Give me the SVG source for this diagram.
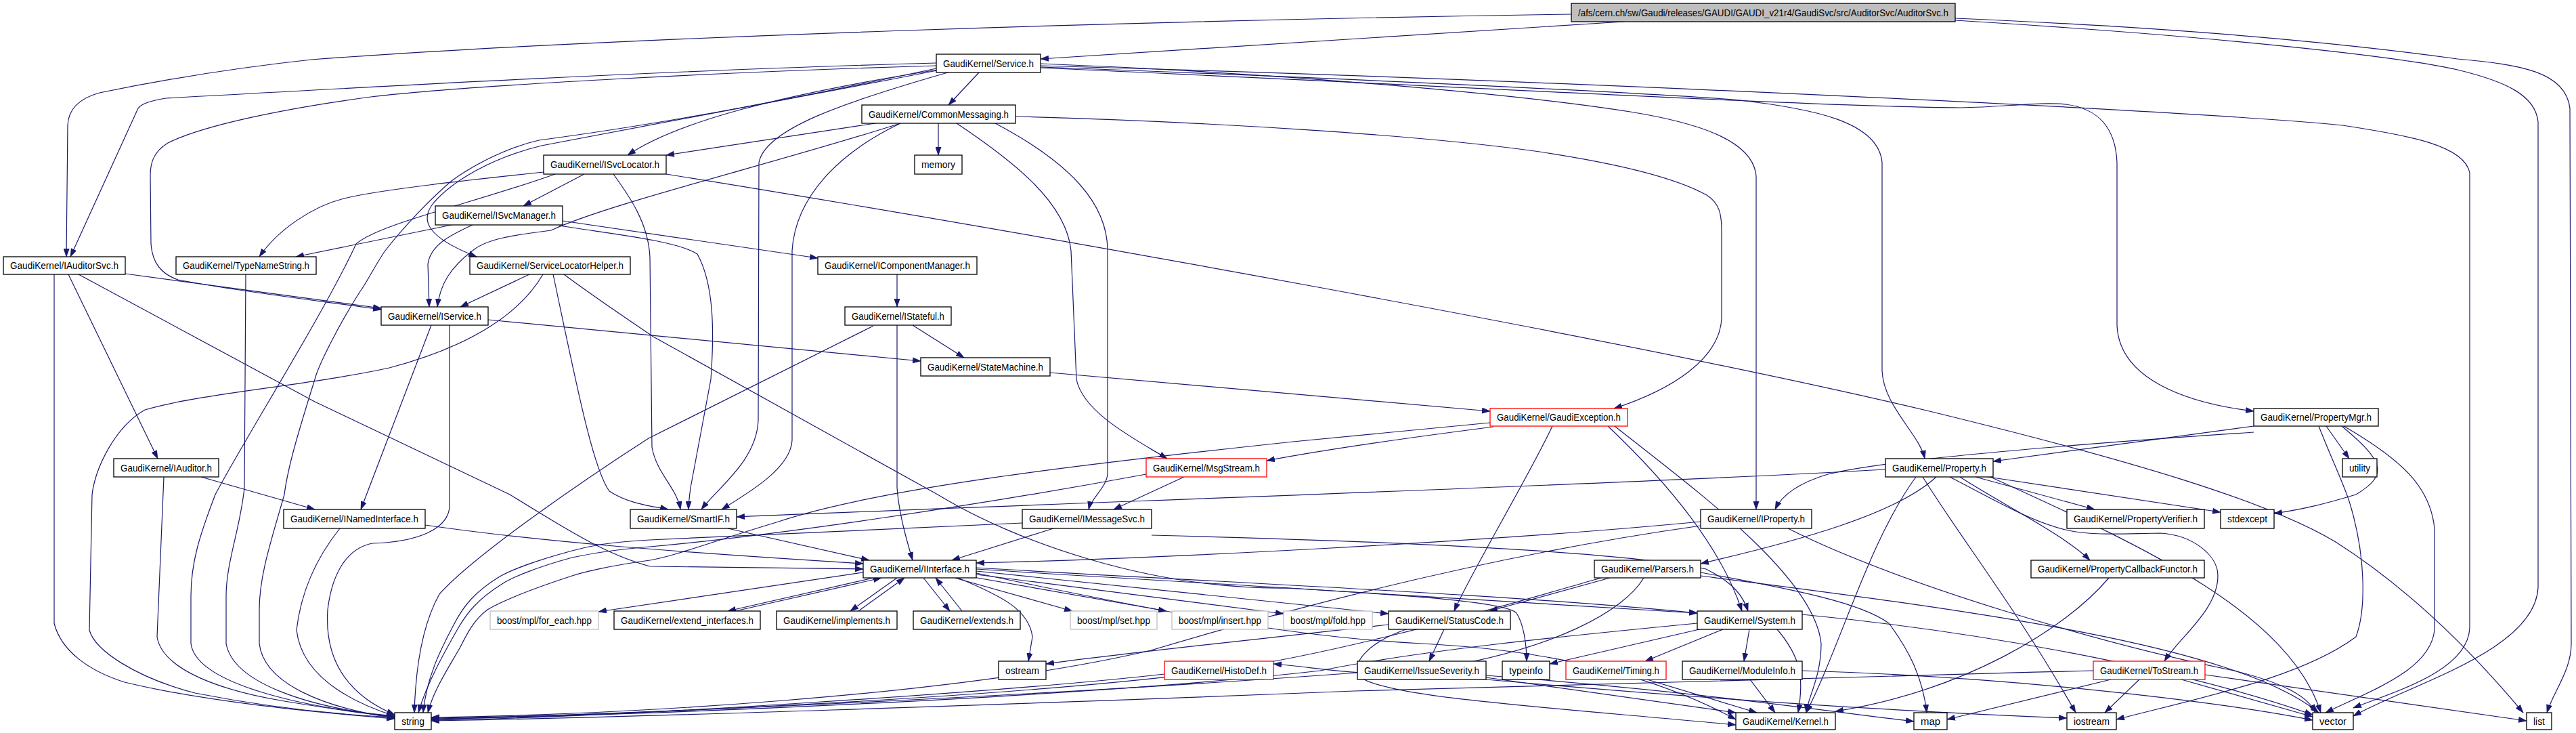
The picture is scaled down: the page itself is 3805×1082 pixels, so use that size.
<svg xmlns="http://www.w3.org/2000/svg" width="3805" height="1082" viewBox="0 0 3805 1082">
<defs>
<marker id="a" markerWidth="13" markerHeight="9" refX="12" refY="4.5" orient="auto" markerUnits="userSpaceOnUse"><path d="M0,0L13,4.5L0,9z" fill="#191970"/></marker>
<style>
.n rect{fill:#fff;stroke:#000;stroke-width:1.3}
.r rect{stroke:#f00}
.g rect{stroke:#bfbfbf}
.t rect{fill:#bfbfbf}
text{font-family:"Liberation Sans",Arial,sans-serif;font-size:14px;text-anchor:middle;fill:#000}
.e path{fill:none;stroke:#191970;stroke-width:1.2;marker-end:url(#a)}
</style>
</defs>
<rect width="3805" height="1082" fill="#fff"/>
<g id="edges" class="e">
<path d="M2399,32 C2100,50 1800,72 1537,87"/>
<path d="M2321,21 C1700,30 900,55 460,88 C330,102 220,122 147,137 C118,145 101,160 100,185 L98,379"/>
<path d="M2888,27 C3200,40 3450,62 3630,87 C3720,95 3790,105 3796,160 L3798,950 C3798,990 3772,1020 3762,1052"/>
<path d="M2888,30 C3300,55 3550,85 3630,103 C3700,120 3745,140 3749,180 L3749,867 C3745,960 3560,1010 3476,1057"/>
<path d="M1537,97 C2200,115 3200,160 3460,185 C3560,200 3640,215 3648,255 L3648,927 C3645,990 3540,1020 3476,1045"/>
<path d="M1537,100 C2200,130 2700,158 2896,159 C2960,158 3014,150 3051,154 C3100,160 3125,190 3127,240 L3127,480 C3130,560 3230,595 3329,607"/>
<path d="M1537,94 C1900,108 2250,140 2408,165 C2500,180 2590,205 2594,260 L2594,752"/>
<path d="M1537,99 C1900,112 2400,135 2561,147 C2680,160 2775,180 2780,240 L2780,547 C2782,600 2835,640 2843,677"/>
<path d="M1446,107 L1401,155"/>
<path d="M1383,93 C1000,103 550,128 245,145 C215,150 206,155 203,162 L104,379"/>
<path d="M1383,97 C1100,105 700,125 548,143 C420,160 300,185 248,211 C225,225 222,243 222,260 L223,360 C225,390 240,405 263,413 C350,430 480,445 563,457"/>
<path d="M185,404 L563,455"/>
<path d="M1385,103 C1150,140 1000,180 927,229"/>
<path d="M1383,101 C1200,140 1000,180 796,207 C740,220 690,250 667,267 C640,290 600,330 569,370 C555,390 540,420 532,430 C500,480 470,540 465,560 C440,640 425,690 420,730 C400,800 383,850 383,900 L383,950 C390,1010 480,1045 583,1060"/>
<path d="M1384,104 C1150,150 900,195 800,215 C730,232 670,265 640,300 C620,325 630,350 704,379"/>
<path d="M1293,182 L984,229"/>
<path d="M1330,182 C1150,240 900,300 814,340 C760,347 720,352 698,370 C665,395 650,420 646,453"/>
<path d="M1330,182 C1240,225 1175,290 1170,370 L1170,650 C1168,690 1110,725 1066,752"/>
<path d="M1400,107 C1250,150 1130,190 1121,240 L1120,620 C1118,680 1060,720 1036,752"/>
<path d="M1386,182 L1386,229"/>
<path d="M1413,182 C1500,240 1575,300 1582,370 L1590,560 C1600,610 1680,650 1724,677"/>
<path d="M1470,182 C1580,240 1636,300 1636,370 L1636,700 C1634,720 1612,735 1608,752"/>
<path d="M1500,172 C1800,180 2100,200 2267,223 C2380,240 2470,260 2521,288 C2540,300 2543,317 2543,340 L2543,470 C2540,530 2470,575 2384,603"/>
<path d="M863,257 L773,304"/>
<path d="M803,254 C700,265 560,280 508,293 C460,305 410,340 383,379"/>
<path d="M984,257 C1500,340 2400,500 2850,607 C3150,680 3350,740 3450,800 C3560,870 3650,960 3727,1052"/>
<path d="M906,257 C930,290 958,330 960,380 L963,660 C970,700 1000,720 1005,752"/>
<path d="M820,257 C700,300 560,330 526,360 C480,460 360,650 318,730 C295,790 282,830 282,880 L282,950 C290,1010 450,1045 583,1057"/>
<path d="M667,332 L437,379"/>
<path d="M698,332 C670,345 636,360 632,390 L634,453"/>
<path d="M831,326 L1208,381"/>
<path d="M826,333 C900,345 1000,355 1030,375 C1055,420 1055,490 1050,560 L1020,720 C1018,735 1017,745 1017,752"/>
<path d="M782,405 L680,453"/>
<path d="M817,405 C850,560 875,690 900,725 C930,745 970,748 987,752"/>
<path d="M802,405 C770,460 700,510 575,543 C450,570 300,580 214,605 C170,630 141,690 136,730 L132,930 C140,960 200,1000 288,1023 C400,1045 500,1055 583,1059"/>
<path d="M833,405 C880,440 940,480 965,497 L1385,730 C1500,800 1700,870 1900,868 L2507,905"/>
<path d="M363,405 L361,720 C355,780 334,830 334,880 L334,950 C345,1010 460,1045 583,1058"/>
<path d="M80,405 L80,920 C90,960 130,990 184,1007 C300,1035 450,1050 583,1061"/>
<path d="M242,704 L232,940 C240,990 330,1020 420,1035 C500,1048 550,1055 583,1058"/>
<path d="M502,780 C470,820 445,870 438,930 C445,990 500,1030 583,1057"/>
<path d="M664,480 L664,750 C660,780 620,800 550,802 C510,810 490,850 484,900 C480,960 500,1020 583,1055"/>
<path d="M297,704 L465,752"/>
<path d="M637,480 L533,752"/>
<path d="M721,472 L1360,533"/>
<path d="M101,405 L233,677"/>
<path d="M116,405 L465,593 L753,730 C850,790 900,820 960,836 L1275,840"/>
<path d="M628,775 C800,800 1000,815 1275,832"/>
<path d="M1325,480 L1325,720 C1328,760 1340,800 1348,827"/>
<path d="M1348,480 L1424,528"/>
<path d="M1290,481 L958,647 C860,710 700,820 649,877 C625,920 614,980 612,1052"/>
<path d="M1325,405 L1325,453"/>
<path d="M1551,550 C1800,570 2000,590 2201,607"/>
<path d="M1749,704 L1645,752"/>
<path d="M1693,700 C1450,745 1150,790 960,807 C900,812 870,818 845,823 C790,838 755,853 740,863 C705,885 690,905 678,925 C655,965 630,1010 618,1052"/>
<path d="M1556,780 L1406,827"/>
<path d="M1510,772 C1200,785 1000,795 960,797 C900,800 870,806 845,813 C790,828 750,843 735,853 C700,875 685,895 673,917 C650,960 630,1000 625,1052"/>
<path d="M1701,790 C2100,800 2400,815 2520,840 C2560,860 2575,880 2582,902"/>
<path d="M1075,780 L1284,827"/>
<path d="M1290,853 L1075,902"/>
<path d="M1086,902 L1302,853"/>
<path d="M1325,853 L1256,902"/>
<path d="M1268,902 L1336,853"/>
<path d="M1364,853 L1403,902"/>
<path d="M1421,902 L1382,853"/>
<path d="M1275,845 C1100,870 950,892 884,903"/>
<path d="M1410,853 L1584,902"/>
<path d="M1432,851 L1723,902"/>
<path d="M1442,848 L1896,906"/>
<path d="M1415,853 C1480,880 1520,900 1525,940 L1519,976"/>
<path d="M1442,843 L2051,906"/>
<path d="M1442,838 C1800,860 2200,875 2507,905"/>
<path d="M1442,840 C1900,870 2220,880 2240,905 C2250,920 2255,950 2255,976"/>
<path d="M1442,846 C1700,900 1900,940 2100,950 C2300,960 2450,1000 2564,1062"/>
<path d="M2512,770 C2200,800 1700,825 1442,831"/>
<path d="M2512,776 C2200,820 1900,900 1700,960 C1400,1030 900,1055 637,1059"/>
<path d="M2641,780 C2800,860 3100,950 3300,990 C3380,1010 3410,1030 3420,1052"/>
<path d="M2918,704 L3094,752"/>
<path d="M2930,703 L3280,756"/>
<path d="M2895,704 C2950,740 3050,790 3087,827"/>
<path d="M2860,704 C2800,760 2650,800 2512,832"/>
<path d="M2880,704 C2950,740 3000,770 3051,782 C3090,792 3150,787 3191,787 C3240,790 3276,820 3276,850 C3276,900 3220,940 3197,976"/>
<path d="M2830,704 C2760,800 2720,950 2668,1052"/>
<path d="M2840,704 C2900,800 2980,900 3066,1052"/>
<path d="M2940,704 C3150,800 3380,900 3428,1052"/>
<path d="M2785,693 C2400,715 1500,745 1088,763"/>
<path d="M3329,629 L2944,681"/>
<path d="M3329,638 C3000,660 2780,680 2700,700 C2650,715 2630,735 2622,752"/>
<path d="M3436,629 L3470,677"/>
<path d="M3459,629 C3520,680 3530,700 3480,730 C3430,745 3400,752 3359,758"/>
<path d="M3425,629 C3445,680 3460,710 3470,740 C3495,820 3495,900 3480,940 C3400,1000 3250,1030 3126,1062"/>
<path d="M3462,629 C3550,680 3590,720 3596,780 L3596,930 C3590,990 3500,1020 3435,1052"/>
<path d="M2293,629 C2260,700 2170,850 2148,902"/>
<path d="M2375,629 C2450,700 2540,800 2573,902"/>
<path d="M2385,629 C2500,720 2680,850 2690,950 C2690,1000 2670,1030 2668,1052"/>
<path d="M2206,630 C2050,650 1950,665 1871,680"/>
<path d="M2201,624 L1910,652 C1600,685 1300,720 1150,770 C1050,800 1000,820 960,827 C900,835 860,845 845,850 C790,868 745,885 720,900 C700,915 690,935 680,955 C660,990 640,1020 632,1052"/>
<path d="M2133,929 L2111,976"/>
<path d="M2051,922 C1800,950 1650,965 1545,980"/>
<path d="M2077,929 C2022,948 1992,980 2010,1000 C2050,1030 2300,1045 2564,1070"/>
<path d="M2195,1000 L2564,1052"/>
<path d="M2195,997 C2500,1020 2700,1050 2827,1065"/>
<path d="M2195,1003 C2500,1030 2800,1050 3053,1060"/>
<path d="M2005,993 C1500,1030 900,1055 637,1062"/>
<path d="M2625,929 C2660,970 2665,1000 2656,1052"/>
<path d="M2510,929 L2289,980"/>
<path d="M2545,929 L2430,976"/>
<path d="M2584,929 L2576,976"/>
<path d="M2507,920 C2300,940 2100,960 1950,990 C1600,1030 900,1058 637,1061"/>
<path d="M2662,907 C2900,930 3200,980 3416,1055"/>
<path d="M2433,1003 L2595,1052"/>
<path d="M2585,1003 L2622,1052"/>
<path d="M2662,990 C3000,1000 3300,1040 3416,1063"/>
<path d="M2378,853 L2200,902"/>
<path d="M2428,853 C2400,900 2300,960 2100,990 C2000,1000 1950,985 1881,980"/>
<path d="M2512,845 C2650,870 2750,890 2790,920 C2820,960 2840,1000 2846,1052"/>
<path d="M2365,853 C2200,900 2000,960 1800,990 C1500,1030 900,1057 637,1060"/>
<path d="M2512,850 C2900,900 3300,950 3425,1052"/>
<path d="M1720,995 C1500,1020 900,1060 637,1063"/>
<path d="M3160,1003 L3109,1052"/>
<path d="M3118,1003 L2876,1062"/>
<path d="M3222,1003 L3416,1058"/>
<path d="M3257,996 L3732,1064"/>
<path d="M3092,990 C2700,1000 2300,1010 2000,1020 C1500,1040 900,1060 637,1064"/>
<path d="M3115,853 C3050,930 2900,1020 2711,1050"/>
</g>
<g id="n_T" class="n t"><rect x="2321" y="5" width="567" height="27"/><text x="2604.5" y="23.5" textLength="547" lengthAdjust="spacingAndGlyphs">/afs/cern.ch/sw/Gaudi/releases/GAUDI/GAUDI_v21r4/GaudiSvc/src/AuditorSvc/AuditorSvc.h</text></g>
<g id="n_SVC" class="n"><rect x="1383" y="80" width="154" height="27"/><text x="1460" y="98.5" textLength="134" lengthAdjust="spacingAndGlyphs">GaudiKernel/Service.h</text></g>
<g id="n_CM" class="n"><rect x="1273" y="155" width="227" height="27"/><text x="1386.5" y="173.5" textLength="207" lengthAdjust="spacingAndGlyphs">GaudiKernel/CommonMessaging.h</text></g>
<g id="n_MEM" class="n"><rect x="1351" y="229" width="70" height="28"/><text x="1386" y="248" textLength="50" lengthAdjust="spacingAndGlyphs">memory</text></g>
<g id="n_SL" class="n"><rect x="803" y="229" width="181" height="28"/><text x="893.5" y="248" textLength="161" lengthAdjust="spacingAndGlyphs">GaudiKernel/ISvcLocator.h</text></g>
<g id="n_SM" class="n"><rect x="643" y="304" width="188" height="28"/><text x="737" y="323" textLength="168" lengthAdjust="spacingAndGlyphs">GaudiKernel/ISvcManager.h</text></g>
<g id="n_AS" class="n"><rect x="5" y="379" width="180" height="26"/><text x="95" y="397" textLength="160" lengthAdjust="spacingAndGlyphs">GaudiKernel/IAuditorSvc.h</text></g>
<g id="n_TNS" class="n"><rect x="260" y="379" width="207" height="26"/><text x="363.5" y="397" textLength="187" lengthAdjust="spacingAndGlyphs">GaudiKernel/TypeNameString.h</text></g>
<g id="n_SLH" class="n"><rect x="694" y="379" width="237" height="26"/><text x="812.5" y="397" textLength="217" lengthAdjust="spacingAndGlyphs">GaudiKernel/ServiceLocatorHelper.h</text></g>
<g id="n_ICM" class="n"><rect x="1208" y="379" width="235" height="26"/><text x="1325.5" y="397" textLength="215" lengthAdjust="spacingAndGlyphs">GaudiKernel/IComponentManager.h</text></g>
<g id="n_IS" class="n"><rect x="563" y="453" width="158" height="27"/><text x="642" y="471.5" textLength="138" lengthAdjust="spacingAndGlyphs">GaudiKernel/IService.h</text></g>
<g id="n_IST" class="n"><rect x="1248" y="453" width="157" height="27"/><text x="1326.5" y="471.5" textLength="137" lengthAdjust="spacingAndGlyphs">GaudiKernel/IStateful.h</text></g>
<g id="n_STM" class="n"><rect x="1360" y="528" width="191" height="27"/><text x="1455.5" y="546.5" textLength="171" lengthAdjust="spacingAndGlyphs">GaudiKernel/StateMachine.h</text></g>
<g id="n_GE" class="n r"><rect x="2201" y="603" width="203" height="26"/><text x="2302.5" y="621" textLength="183" lengthAdjust="spacingAndGlyphs">GaudiKernel/GaudiException.h</text></g>
<g id="n_PM" class="n"><rect x="3329" y="603" width="184" height="26"/><text x="3421" y="621" textLength="164" lengthAdjust="spacingAndGlyphs">GaudiKernel/PropertyMgr.h</text></g>
<g id="n_IA" class="n"><rect x="168" y="677" width="155" height="27"/><text x="245.5" y="695.5" textLength="135" lengthAdjust="spacingAndGlyphs">GaudiKernel/IAuditor.h</text></g>
<g id="n_MS" class="n r"><rect x="1693" y="677" width="178" height="27"/><text x="1782" y="695.5" textLength="158" lengthAdjust="spacingAndGlyphs">GaudiKernel/MsgStream.h</text></g>
<g id="n_PR" class="n"><rect x="2785" y="677" width="159" height="27"/><text x="2864.5" y="695.5" textLength="139" lengthAdjust="spacingAndGlyphs">GaudiKernel/Property.h</text></g>
<g id="n_UT" class="n"><rect x="3460" y="677" width="51" height="27"/><text x="3485.5" y="695.5" textLength="31" lengthAdjust="spacingAndGlyphs">utility</text></g>
<g id="n_INI" class="n"><rect x="419" y="752" width="209" height="28"/><text x="523.5" y="771" textLength="189" lengthAdjust="spacingAndGlyphs">GaudiKernel/INamedInterface.h</text></g>
<g id="n_SIF" class="n"><rect x="931" y="752" width="157" height="28"/><text x="1009.5" y="771" textLength="137" lengthAdjust="spacingAndGlyphs">GaudiKernel/SmartIF.h</text></g>
<g id="n_IMS" class="n"><rect x="1510" y="752" width="191" height="28"/><text x="1605.5" y="771" textLength="171" lengthAdjust="spacingAndGlyphs">GaudiKernel/IMessageSvc.h</text></g>
<g id="n_IP" class="n"><rect x="2512" y="752" width="164" height="28"/><text x="2594" y="771" textLength="144" lengthAdjust="spacingAndGlyphs">GaudiKernel/IProperty.h</text></g>
<g id="n_PV" class="n"><rect x="3053" y="752" width="203" height="28"/><text x="3154.5" y="771" textLength="183" lengthAdjust="spacingAndGlyphs">GaudiKernel/PropertyVerifier.h</text></g>
<g id="n_SE" class="n"><rect x="3280" y="752" width="79" height="28"/><text x="3319.5" y="771" textLength="59" lengthAdjust="spacingAndGlyphs">stdexcept</text></g>
<g id="n_II" class="n"><rect x="1275" y="827" width="167" height="26"/><text x="1358.5" y="845" textLength="147" lengthAdjust="spacingAndGlyphs">GaudiKernel/IInterface.h</text></g>
<g id="n_PA" class="n"><rect x="2355" y="827" width="157" height="26"/><text x="2433.5" y="845" textLength="137" lengthAdjust="spacingAndGlyphs">GaudiKernel/Parsers.h</text></g>
<g id="n_PCF" class="n"><rect x="3000" y="827" width="256" height="26"/><text x="3128" y="845" textLength="236" lengthAdjust="spacingAndGlyphs">GaudiKernel/PropertyCallbackFunctor.h</text></g>
<g id="n_FE" class="n g"><rect x="724" y="902" width="160" height="27"/><text x="804" y="920.5" textLength="140" lengthAdjust="spacingAndGlyphs">boost/mpl/for_each.hpp</text></g>
<g id="n_EI" class="n"><rect x="907" y="902" width="216" height="27"/><text x="1015" y="920.5" textLength="196" lengthAdjust="spacingAndGlyphs">GaudiKernel/extend_interfaces.h</text></g>
<g id="n_IMP" class="n"><rect x="1147" y="902" width="178" height="27"/><text x="1236" y="920.5" textLength="158" lengthAdjust="spacingAndGlyphs">GaudiKernel/implements.h</text></g>
<g id="n_EX" class="n"><rect x="1349" y="902" width="158" height="27"/><text x="1428" y="920.5" textLength="138" lengthAdjust="spacingAndGlyphs">GaudiKernel/extends.h</text></g>
<g id="n_SET" class="n g"><rect x="1581" y="902" width="128" height="27"/><text x="1645" y="920.5" textLength="108" lengthAdjust="spacingAndGlyphs">boost/mpl/set.hpp</text></g>
<g id="n_INS" class="n g"><rect x="1731" y="902" width="142" height="27"/><text x="1802" y="920.5" textLength="122" lengthAdjust="spacingAndGlyphs">boost/mpl/insert.hpp</text></g>
<g id="n_FOLD" class="n g"><rect x="1896" y="902" width="131" height="27"/><text x="1961.5" y="920.5" textLength="111" lengthAdjust="spacingAndGlyphs">boost/mpl/fold.hpp</text></g>
<g id="n_SC" class="n"><rect x="2051" y="902" width="180" height="27"/><text x="2141" y="920.5" textLength="160" lengthAdjust="spacingAndGlyphs">GaudiKernel/StatusCode.h</text></g>
<g id="n_SYS" class="n"><rect x="2507" y="902" width="155" height="27"/><text x="2584.5" y="920.5" textLength="135" lengthAdjust="spacingAndGlyphs">GaudiKernel/System.h</text></g>
<g id="n_OS" class="n"><rect x="1475" y="976" width="70" height="27"/><text x="1510" y="994.5" textLength="50" lengthAdjust="spacingAndGlyphs">ostream</text></g>
<g id="n_HD" class="n r"><rect x="1720" y="976" width="161" height="27"/><text x="1800.5" y="994.5" textLength="141" lengthAdjust="spacingAndGlyphs">GaudiKernel/HistoDef.h</text></g>
<g id="n_ISV" class="n"><rect x="2005" y="976" width="190" height="27"/><text x="2100" y="994.5" textLength="170" lengthAdjust="spacingAndGlyphs">GaudiKernel/IssueSeverity.h</text></g>
<g id="n_TI" class="n"><rect x="2219" y="976" width="70" height="27"/><text x="2254" y="994.5" textLength="50" lengthAdjust="spacingAndGlyphs">typeinfo</text></g>
<g id="n_TM" class="n r"><rect x="2313" y="976" width="148" height="27"/><text x="2387" y="994.5" textLength="128" lengthAdjust="spacingAndGlyphs">GaudiKernel/Timing.h</text></g>
<g id="n_MI" class="n"><rect x="2485" y="976" width="177" height="27"/><text x="2573.5" y="994.5" textLength="157" lengthAdjust="spacingAndGlyphs">GaudiKernel/ModuleInfo.h</text></g>
<g id="n_TS" class="n r"><rect x="3092" y="976" width="165" height="27"/><text x="3174.5" y="994.5" textLength="145" lengthAdjust="spacingAndGlyphs">GaudiKernel/ToStream.h</text></g>
<g id="n_STR" class="n"><rect x="583" y="1052" width="54" height="25"/><text x="610" y="1069.5" textLength="34" lengthAdjust="spacingAndGlyphs">string</text></g>
<g id="n_KE" class="n"><rect x="2564" y="1052" width="147" height="25"/><text x="2637.5" y="1069.5" textLength="127" lengthAdjust="spacingAndGlyphs">GaudiKernel/Kernel.h</text></g>
<g id="n_MAP" class="n"><rect x="2827" y="1052" width="49" height="25"/><text x="2851.5" y="1069.5" textLength="29" lengthAdjust="spacingAndGlyphs">map</text></g>
<g id="n_IOS" class="n"><rect x="3053" y="1052" width="73" height="25"/><text x="3089.5" y="1069.5" textLength="53" lengthAdjust="spacingAndGlyphs">iostream</text></g>
<g id="n_VEC" class="n"><rect x="3416" y="1052" width="60" height="25"/><text x="3446" y="1069.5" textLength="40" lengthAdjust="spacingAndGlyphs">vector</text></g>
<g id="n_LIST" class="n"><rect x="3732" y="1052" width="37" height="25"/><text x="3750.5" y="1069.5" textLength="17" lengthAdjust="spacingAndGlyphs">list</text></g>
</svg>
